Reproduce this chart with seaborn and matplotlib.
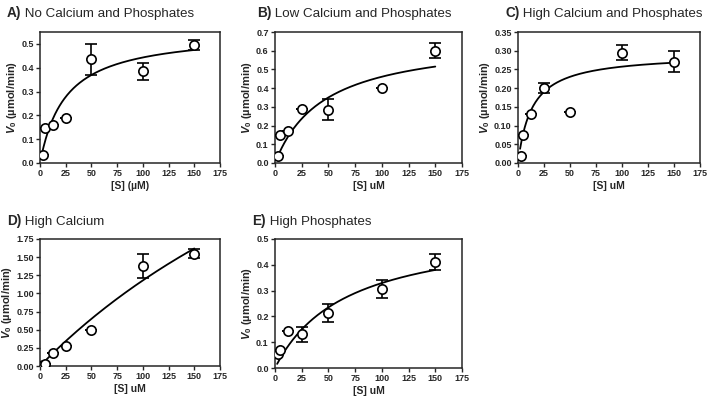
import numpy as np
import pandas as pd
import seaborn as sns
import matplotlib.pyplot as plt

# substrate concentrations (uM)
conc = [2.5, 5, 12.5, 25, 50, 100, 150]

# mean V0 and SD for each condition
v_a = [0.035, 0.145, 0.16, 0.19, 0.435, 0.385, 0.495]
sd_a = [0, 0, 0, 0, 0.065, 0.035, 0.02]
v_b = [0.04, 0.15, 0.17, 0.29, 0.285, 0.40, 0.60]
sd_b = [0, 0, 0, 0, 0.055, 0, 0.04]
v_c = [0.02, 0.075, 0.13, 0.20, 0.135, 0.295, 0.27]
sd_c = [0, 0, 0, 0.013, 0, 0.021, 0.028]
v_d = [0.01, 0.03, 0.18, 0.28, 0.49, 1.38, 1.55]
sd_d = [0, 0, 0, 0, 0, 0.17, 0.06]
v_e = [0.055, 0.07, 0.145, 0.13, 0.215, 0.305, 0.41]
sd_e = [0, 0, 0, 0.03, 0.035, 0.035, 0.03]

# Michaelis-Menten fit parameters (Vmax, Km)
fit_a = (0.553, 24.8)
fit_b = (0.674, 46.2)
fit_c = (0.292, 13.4)
fit_d = (6.37, 440.0)
fit_e = (0.55, 67.0)

letters = ['A)', 'B)', 'C)', 'D)', 'E)']
titles = [' No Calcium and Phosphates', ' Low Calcium and Phosphates',
          ' High Calcium and Phosphates', ' High Calcium', ' High Phosphates']
xlabels = ['[S] (\u00b5M)', '[S] uM', '[S] uM', '[S] uM', '[S] uM']
ylims = [0.55, 0.7, 0.35, 1.75, 0.5]
ysteps = [0.1, 0.1, 0.05, 0.25, 0.1]
yfmt = ['%.1f', '%.1f', '%.2f', '%.2f', '%.1f']

sns.set_style('ticks')
plt.rcParams['font.family'] = ['Liberation Sans', 'DejaVu Sans']
plt.rcParams['mathtext.fontset'] = 'custom'
plt.rcParams['mathtext.rm'] = 'Liberation Sans:bold'
plt.rcParams['mathtext.it'] = 'Liberation Sans:italic:bold'
plt.rcParams['mathtext.bf'] = 'Liberation Sans:bold'

W, H = 714, 404
fig = plt.figure(figsize=(W / 100, H / 100), dpi=100)

# pixel boxes: left, right, top, bottom
boxes = [(40, 220, 32, 163), (275, 462, 32, 163), (518, 700, 32, 163),
         (40, 220, 239, 366), (275, 462, 239, 368)]
title_pos = [(7, 17), (257, 17), (505, 17), (7, 225), (252, 225)]

vals = [v_a, v_b, v_c, v_d, v_e]
sds = [sd_a, sd_b, sd_c, sd_d, sd_e]
fits = [fit_a, fit_b, fit_c, fit_d, fit_e]

for i in range(5):
    l, r, t, b = boxes[i]
    ax = fig.add_axes([l / W, 1 - b / H, (r - l) / W, (b - t) / H])
    vmax, km = fits[i]
    xs = np.linspace(2, 150, 200)
    curve = pd.DataFrame({'x': xs, 'y': vmax * xs / (km + xs)})
    sns.lineplot(data=curve, x='x', y='y', color='black', lw=1.3, ax=ax, zorder=2)
    ax.errorbar(conc, vals[i], yerr=sds[i], fmt='none', ecolor='black',
                elinewidth=1.2, capsize=4, capthick=1.2, zorder=3)
    df = pd.DataFrame({'x': conc, 'y': vals[i]})
    sns.scatterplot(data=df, x='x', y='y', s=45, facecolor='white',
                    edgecolor='black', linewidth=1.2, ax=ax, zorder=4)
    ax.set_xlim(0, 175)
    ax.set_ylim(0, ylims[i])
    ax.set_xticks(np.arange(0, 176, 25))
    ax.set_yticks(np.arange(0, ylims[i] + 1e-9, ysteps[i]))
    ax.yaxis.set_major_formatter(plt.FormatStrFormatter(yfmt[i]))
    ax.tick_params(labelsize=6.5, length=3, width=1, pad=1.5)
    for lab in ax.get_xticklabels() + ax.get_yticklabels():
        lab.set_fontweight('bold')
    for sp in ax.spines.values():
        sp.set_visible(True)
        sp.set_linewidth(1.1)
    ax.set_xlabel(xlabels[i], fontsize=7.5, fontweight='bold', labelpad=2)
    ax.set_ylabel('$\\mathit{V}_0$ (\u00b5mol/min)', fontsize=8,
                  fontweight='bold', labelpad=1.5)

    tx, ty = title_pos[i]
    t1 = fig.text(tx / W, 1 - ty / H, letters[i], fontsize=9.8, fontweight='bold',
                  va='baseline', ha='left')
    ax.annotate(titles[i], xy=(1, 0), xycoords=t1, va='bottom', ha='left',
                fontsize=9.6, annotation_clip=False)

fig.savefig('out.png', dpi=100)
